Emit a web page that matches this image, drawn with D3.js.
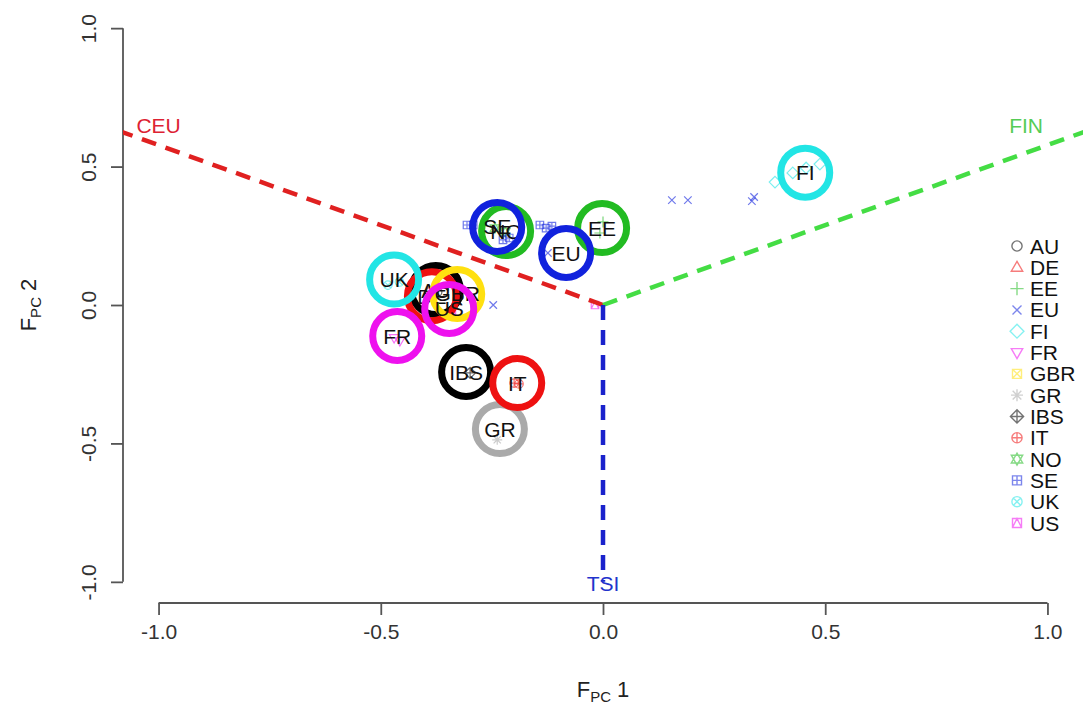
<html>
<head>
<meta charset="utf-8">
<style>
  body { margin:0; background:#fff; }
  text { font-family: "Liberation Sans", Arial, sans-serif; }
</style>
</head>
<body>
<svg id="plot"></svg>
<script src="https://d3js.org/d3.v7.min.js"></script>
<script>

// population labels and their centroid on the two PCs
var pops = ["AU","DE","EE","EU","FI","FR","GBR","GR","IBS","IT","NO","SE","UK","US"];
var centerX = [-0.376,-0.385,-0.002,-0.083,0.455,-0.463,-0.328,-0.232,-0.308,-0.193,-0.218,-0.238,-0.470,-0.346];
var centerY = [0.054,0.032,0.278,0.188,0.478,-0.112,0.040,-0.448,-0.242,-0.282,0.267,0.282,0.092,-0.014];

// individual samples: population index, PC1, PC2
var samplePop = [0,1,2,2,3,3,3,3,3,3,4,4,4,4,5,5,6,7,8,9,9,10,10,11,11,11,11,11,11,11,12,12,13,13];
var sampleX = [-0.372,-0.393,0.000,-0.007,0.155,0.191,0.335,0.340,-0.124,-0.247,0.387,0.427,0.457,0.488,-0.470,-0.457,-0.326,-0.238,-0.299,-0.200,-0.189,-0.243,-0.220,-0.306,-0.292,-0.225,-0.211,-0.142,-0.128,-0.115,-0.484,-0.458,-0.018,-0.340];
var sampleY = [0.047,0.047,0.300,0.260,0.379,0.379,0.375,0.390,0.188,0.000,0.444,0.477,0.495,0.509,-0.119,-0.130,0.032,-0.487,-0.245,-0.282,-0.285,0.278,0.264,0.289,0.289,0.235,0.242,0.289,0.278,0.285,0.072,0.083,0.000,-0.025];

// reference populations (triangle vertices) and where their names sit
var refNames = ["CEU","FIN","TSI"];
var refEndX = [-2.0,2.0,0.0];
var refEndY = [1.155,1.155,-1.0];
var refLabX = [-1.0,0.952,0.0];
var refLabY = [0.650,0.650,-1.005];

var xTicks = [-1.0,-0.5,0.0,0.5,1.0];
var yTicks = [-1.0,-0.5,0.0,0.5,1.0];

// styles (old R palette)
var palette = ["#000000","#ee1111","#22bb22","#1122dd","#22e5e5","#ee11ee","#ffe010","#aaaaaa"];
var refColors = ["#e02020","#44dd44","#1a22cc"];
var refText = ["#dd2233","#55cc55","#2233cc"];

var screen = {width:1088, height:713};

var svg = d3.select("#plot")
    .attr("width",screen.width)
    .attr("height",screen.height);

var xScale = d3.scaleLinear().domain([-1.08,1.08]).range([123,1083]);
var yScale = d3.scaleLinear().domain([-1.08,1.08]).range([604,6]);

var popColor = function(i) { return palette[i % 8]; };

// R-like plotting symbols, pch 1..14
var pchPath = function(k, s)
{
    var circ = function(r) { return "M"+(-r)+",0A"+r+","+r+" 0 1,0 "+r+",0A"+r+","+r+" 0 1,0 "+(-r)+",0"; };
    var sq = function(r) { return "M"+(-r)+","+(-r)+"H"+r+"V"+r+"H"+(-r)+"Z"; };
    var plus = function(r) { return "M"+(-r)+",0H"+r+"M0,"+(-r)+"V"+r; };
    var ex = function(r) { return "M"+(-r)+","+(-r)+"L"+r+","+r+"M"+(-r)+","+r+"L"+r+","+(-r); };
    var dia = function(r) { return "M0,"+(-r)+"L"+r+",0L0,"+r+"L"+(-r)+",0Z"; };
    var triUp = function(r) { return "M0,"+(-r)+"L"+(r*0.95)+","+(r*0.65)+"L"+(-r*0.95)+","+(r*0.65)+"Z"; };
    var triDn = function(r) { return "M0,"+r+"L"+(r*0.95)+","+(-r*0.65)+"L"+(-r*0.95)+","+(-r*0.65)+"Z"; };
    switch(k)
    {
        case 1: return circ(s*0.85);
        case 2: return triUp(s);
        case 3: return plus(s*1.1);
        case 4: return ex(s*0.75);
        case 5: return dia(s*1.15);
        case 6: return triDn(s);
        case 7: return sq(s*0.75)+ex(s*0.75);
        case 8: return plus(s)+ex(s*0.72);
        case 9: return dia(s*1.1)+plus(s*1.1);
        case 10: return circ(s*0.85)+plus(s*0.85);
        case 11: return triUp(s)+triDn(s);
        case 12: return sq(s*0.75)+plus(s*0.75);
        case 13: return circ(s*0.85)+ex(s*0.6);
        default: return sq(s*0.75)+"M"+(-s*0.75)+","+(s*0.75)+"L0,"+(-s*0.75)+"L"+(s*0.75)+","+(s*0.75);
    }
};

// axes
var xAxis = d3.axisBottom(xScale)
    .tickValues(xTicks)
    .tickSize(12)
    .tickPadding(9)
    .tickFormat(function(d) { return d.toFixed(1); });

var gx = svg.append("g")
    .attr("transform","translate(0,603)")
    .call(xAxis);
gx.select(".domain").remove();
gx.append("line")
    .attr("x1",xScale(-1)).attr("x2",xScale(1))
    .attr("stroke","#555");
gx.selectAll("line").attr("stroke","#555").attr("stroke-width",1.8);
gx.selectAll("text")
    .attr("fill","#333")
    .style("font-size","21px")
    .style("font-family","'Liberation Sans', Arial, sans-serif");

var yAxis = d3.axisLeft(yScale)
    .tickValues(yTicks)
    .tickSize(12)
    .tickFormat(function(d) { return d.toFixed(1); });

var gy = svg.append("g")
    .attr("transform","translate(123,0)")
    .call(yAxis);
gy.select(".domain").remove();
gy.append("line")
    .attr("y1",yScale(1)).attr("y2",yScale(-1));
gy.selectAll("line").attr("stroke","#555").attr("stroke-width",1.8);
gy.selectAll("text")
    .attr("x",null).attr("dy",null)
    .attr("text-anchor","middle")
    .attr("transform","translate(-27,0) rotate(-90)")
    .attr("fill","#333")
    .style("font-size","21px")
    .style("font-family","'Liberation Sans', Arial, sans-serif");

// axis titles with subscript
var xt = svg.append("text")
    .attr("x",xScale(0)).attr("y",697)
    .attr("text-anchor","middle")
    .attr("fill","#222")
    .style("font-size","22px");
xt.append("tspan").text("F");
xt.append("tspan").attr("dy",5).style("font-size","15px").text("PC");
xt.append("tspan").attr("dy",-5).text(" 1");

var yt = svg.append("text")
    .attr("transform","translate(36,"+yScale(0)+") rotate(-90)")
    .attr("text-anchor","middle")
    .attr("fill","#222")
    .style("font-size","22px");
yt.append("tspan").text("F");
yt.append("tspan").attr("dy",5).style("font-size","15px").text("PC");
yt.append("tspan").attr("dy",-5).text(" 2");

svg.append("clipPath").attr("id","region")
    .append("rect")
    .attr("x",123).attr("y",6)
    .attr("width",960).attr("height",598);

// individual samples
svg.append("g").selectAll("path")
    .data(samplePop)
    .enter()
    .append("path")
    .attr("transform",function(p,i) { return "translate("+xScale(sampleX[i])+","+yScale(sampleY[i])+")"; })
    .attr("d",function(p) { return pchPath(p+1,5); })
    .attr("fill","none")
    .attr("stroke",function(p) { return popColor(p); })
    .attr("stroke-opacity",0.6)
    .attr("stroke-width",1.2);

// reference axes
svg.append("g")
    .attr("clip-path","url(#region)")
    .selectAll("line")
    .data(refNames)
    .enter()
    .append("line")
    .attr("x1",xScale(0)).attr("y1",yScale(0))
    .attr("x2",function(d,i) { return xScale(refEndX[i]); })
    .attr("y2",function(d,i) { return yScale(refEndY[i]); })
    .attr("stroke",function(d,i) { return refColors[i]; })
    .attr("stroke-width",4.5)
    .attr("stroke-dasharray","15,10");

svg.append("g").selectAll("text")
    .data(refNames)
    .enter()
    .append("text")
    .attr("x",function(d,i) { return xScale(refLabX[i]); })
    .attr("y",function(d,i) { return yScale(refLabY[i]); })
    .attr("dy","0.36em")
    .attr("text-anchor","middle")
    .attr("fill",function(d,i) { return refText[i]; })
    .style("font-size","21px")
    .text(function(d) { return d; });

// population rings with labels, drawn in turn
var rings = svg.append("g");
pops.forEach(function(name,i)
{
    rings.append("circle")
        .attr("cx",xScale(centerX[i]))
        .attr("cy",yScale(centerY[i]))
        .attr("r",24.5)
        .attr("fill","none")
        .attr("stroke",popColor(i))
        .attr("stroke-width",7);
    rings.append("text")
        .attr("x",xScale(centerX[i]))
        .attr("y",yScale(centerY[i]))
        .attr("dy","0.36em")
        .attr("text-anchor","middle")
        .attr("fill","#111")
        .style("font-size","21px")
        .text(name);
});

// legend
var legend = svg.append("g");
var rowY = d3.scaleLinear().domain([0,pops.length-1]).range([246,523]);
legend.selectAll("path")
    .data(pops)
    .enter()
    .append("path")
    .attr("transform",function(d,i) { return "translate(1017,"+rowY(i)+")"; })
    .attr("d",function(d,i) { return pchPath(i+1,6); })
    .attr("fill","none")
    .attr("stroke",function(d,i) { return popColor(i); })
    .attr("stroke-opacity",0.55)
    .attr("stroke-width",1.4);
legend.selectAll("text")
    .data(pops)
    .enter()
    .append("text")
    .attr("x",1030)
    .attr("y",function(d,i) { return rowY(i); })
    .attr("dy","0.36em")
    .attr("fill","#111")
    .style("font-size","21px")
    .text(function(d) { return d; });

</script>
</body>
</html>
